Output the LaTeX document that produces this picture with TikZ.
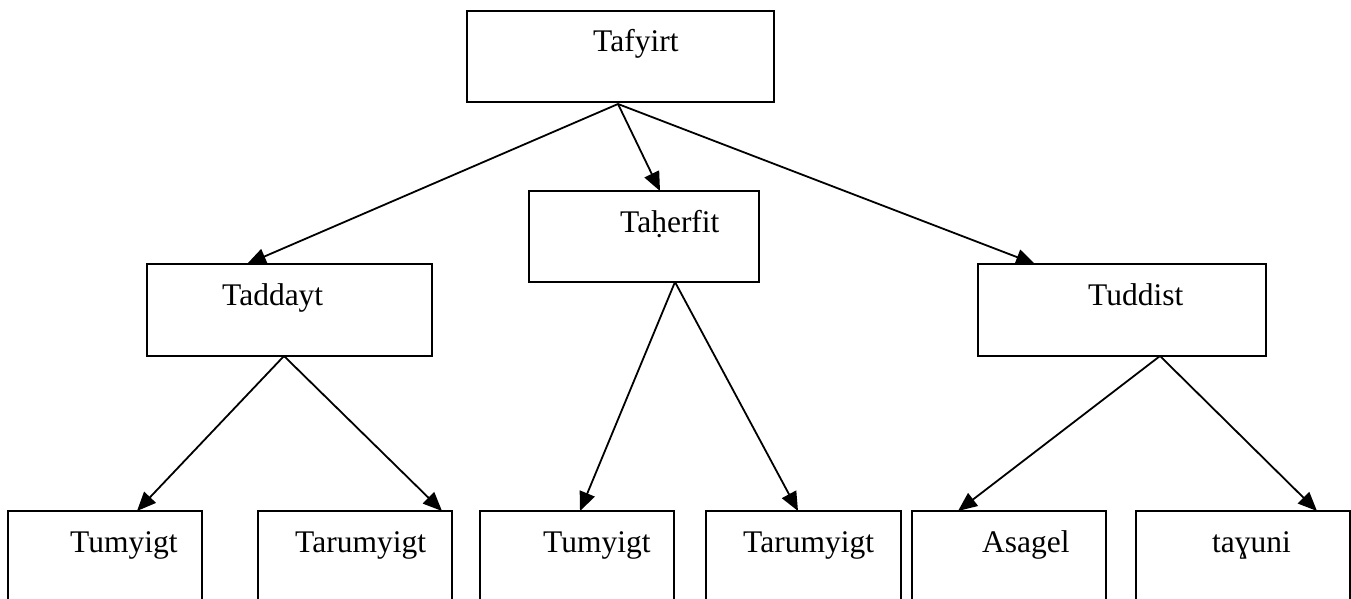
\documentclass[tikz,border=0pt]{standalone}
\usepackage{fontspec}
\setmainfont{Liberation Serif}
\usetikzlibrary{arrows.meta}
\begin{document}
\begin{tikzpicture}[x=1pt,y=-1pt,
  box/.style={draw=black,line width=2pt,inner sep=0pt,outer sep=0pt},
  lbl/.style={anchor=base west,inner sep=0pt,font=\fontsize{31.5}{36}\selectfont},
  arr/.style={line width=1.8pt,-{Triangle[length=19pt,width=16pt]}}]
\useasboundingbox (0,0) rectangle (1351,599);
\clip (0,0) rectangle (1351,599);
% boxes
\node[box,minimum width=307pt,minimum height=91pt] (tafyirt) at (620.5,56.5) {};
\node[box,minimum width=230pt,minimum height=91pt] (taherfit) at (644,236.5) {};
\node[box,minimum width=285pt,minimum height=92pt] (taddayt) at (289.5,310) {};
\node[box,minimum width=288pt,minimum height=92pt] (tuddist) at (1122,310) {};
\node[box,minimum width=194pt,minimum height=120pt] (b1) at (105,571) {};
\node[box,minimum width=194pt,minimum height=120pt] (b2) at (355,571) {};
\node[box,minimum width=194pt,minimum height=120pt] (b3) at (577,571) {};
\node[box,minimum width=195pt,minimum height=120pt] (b4) at (803.5,571) {};
\node[box,minimum width=194pt,minimum height=120pt] (b5) at (1009,571) {};
\node[box,minimum width=214pt,minimum height=120pt] (b6) at (1243,571) {};
% texts
\node[lbl] (t0) at (593,52) {Tafyirt};
\node[lbl] (t1) at (620,232) {Taḥerfit};
\node[lbl] (t2) at (222,305) {Taddayt};
\node[lbl] (t3) at (1088,305) {Tuddist};
\node[lbl] (t4) at (70,552) {Tumyigt};
\node[lbl] (t5) at (295,552) {Tarumyigt};
\node[lbl] (t6) at (543,552) {Tumyigt};
\node[lbl] (t7) at (743,552) {Tarumyigt};
\node[lbl] (t8) at (982,552) {Asagel};
\node[lbl] (t9) at (1212,552) {taɣuni};
% connector points
\coordinate (s0) at (618,104);
\coordinate (e1) at (247,264);
\coordinate (e2) at (660,191);
\coordinate (e3) at (1035,264);
\coordinate (s1) at (284,356);
\coordinate (s2) at (675,282);
\coordinate (s3) at (1160,356);
\coordinate (f1) at (137,511);
\coordinate (f2) at (442,511);
\coordinate (f3) at (580,511);
\coordinate (f4) at (798,511);
\coordinate (f5) at (958,511);
\coordinate (f6) at (1317,511);
% connectors
\draw[arr] (s0) -- (e1);
\draw[arr] (s0) -- (e2);
\draw[arr] (s0) -- (e3);
\draw[arr] (s1) -- (f1);
\draw[arr] (s1) -- (f2);
\draw[arr] (s2) -- (f3);
\draw[arr] (s2) -- (f4);
\draw[arr] (s3) -- (f5);
\draw[arr] (s3) -- (f6);
\end{tikzpicture}
\end{document}
